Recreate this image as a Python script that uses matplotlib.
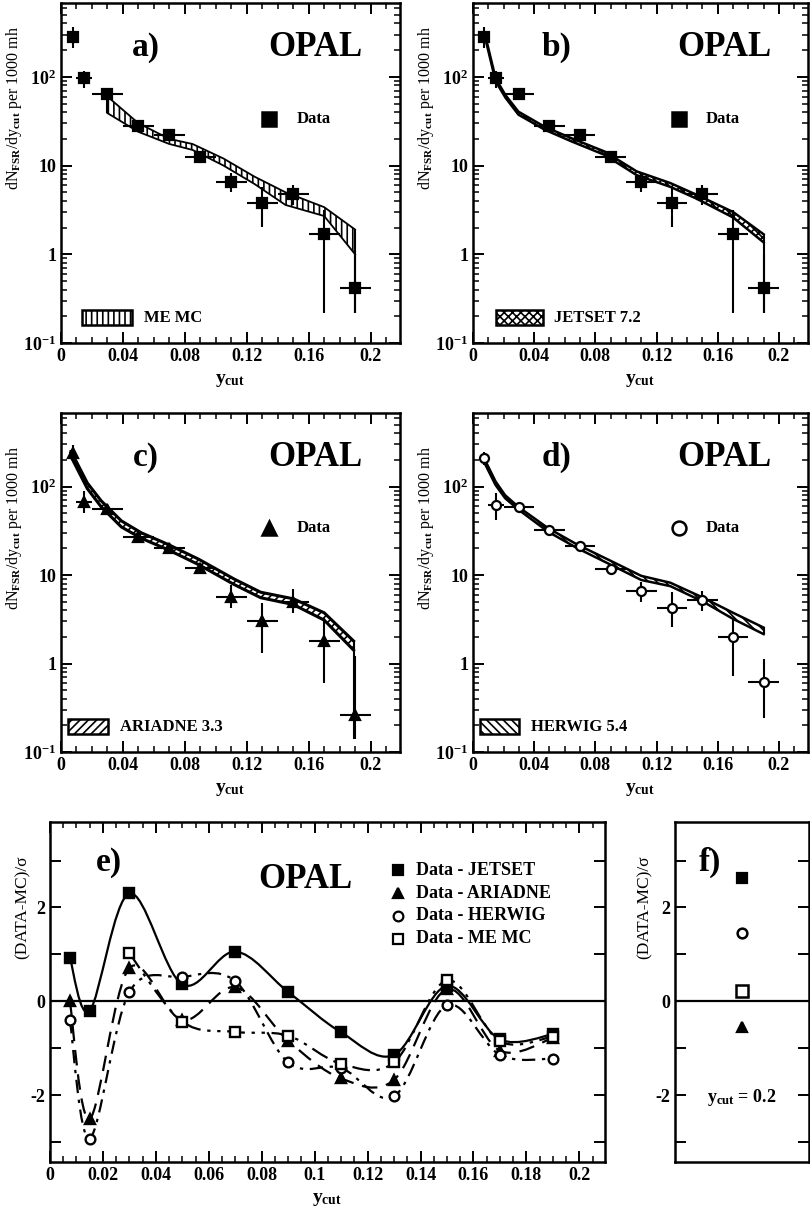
import numpy as np
import matplotlib
matplotlib.use("Agg")
import matplotlib.pyplot as plt
from matplotlib.path import Path
from matplotlib.patches import PathPatch, Rectangle
from matplotlib.ticker import MultipleLocator, FixedLocator, FixedFormatter, FuncFormatter, LogLocator

plt.rcParams['font.family'] = ['Liberation Serif', 'DejaVu Serif']
plt.rcParams['font.weight'] = 'bold'
plt.rcParams['mathtext.fontset'] = 'custom'
plt.rcParams['mathtext.rm'] = 'Liberation Serif:bold'
plt.rcParams['mathtext.it'] = 'Liberation Serif:bold'
plt.rcParams['mathtext.bf'] = 'Liberation Serif:bold'
plt.rcParams['hatch.linewidth'] = 1.2

# -------------------------------------
# Data
# -------------------------------------
bin_edges = [0.005, 0.01, 0.02, 0.04, 0.06, 0.08, 0.10, 0.12, 0.14, 0.16, 0.18, 0.20]

# data points, corrected with JETSET / ME MC (squares)
sq_vals = [285, 97, 64, 28, 22.2, 12.6, 6.6, 3.8, 4.8, 1.7, 0.42]
sq_up = [84, 18, 4, 2, 2, 1, 1.6, 2.0, 1.25, 1.45, 0.58]
sq_lo = [75, 22, 4, 2, 2, 1, 1.5, 1.75, 1.2, 1.48, 0.2]

# ARIADNE corrected (triangles)
tri_vals = [243, 67, 56, 27, 20, 11.9, 5.7, 3.0, 5.0, 1.8, 0.26]
tri_up = [55, 23, 3, 2, 1.5, 1, 2.0, 1.8, 2.0, 1.5, 0.97]
tri_lo = [50, 17, 3, 2, 1.5, 1, 1.45, 1.7, 1.3, 1.2, 0.12]

# HERWIG corrected (circles)
circ_vals = [209, 62, 59.6, 32.6, 21.2, 11.6, 6.6, 4.3, 5.25, 1.98, 0.62]
circ_up = [40, 23, 4, 3, 2, 1, 1.7, 2.1, 1.3, 1.2, 0.52]
circ_lo = [35, 20, 4, 3, 2, 1, 1.7, 1.7, 1.35, 1.25, 0.38]

# ME MC band
me_x = [0.03, 0.05, 0.07, 0.085, 0.105, 0.125, 0.145, 0.17, 0.19]
me_up = [60, 30, 20, 17.5, 12.0, 7.5, 5.0, 3.4, 1.9]
me_lo = [39, 24, 17.5, 15.0, 10.0, 6.2, 3.6, 2.7, 1.0]

# JETSET 7.2 band
js_x = [0.0085, 0.0148, 0.0213, 0.0297, 0.047, 0.0645, 0.086, 0.107, 0.129, 0.146, 0.17, 0.19]
js_up = [270, 96, 62, 40.5, 27.3, 20.3, 14.4, 8.6, 6.35, 4.7, 3.0, 1.68]
js_lo = [252, 89, 58, 37.5, 25.3, 18.7, 13.2, 7.8, 5.75, 4.25, 2.6, 1.36]

# ARIADNE 3.3 band
ar_x = [0.0065, 0.017, 0.026, 0.039, 0.052, 0.069, 0.089, 0.112, 0.129, 0.15, 0.17, 0.189]
ar_up = [250, 110, 69, 41, 30, 22.3, 15.1, 9.0, 6.4, 5.4, 3.75, 1.8]
ar_lo = [218, 95, 59, 35, 26, 19.4, 13.1, 7.8, 5.55, 4.65, 3.1, 1.42]

# HERWIG 5.4 band
hw_x = [0.0072, 0.0148, 0.021, 0.0297, 0.049, 0.068, 0.090, 0.110, 0.129, 0.150, 0.170, 0.190]
hw_up = [210, 114, 80, 59, 34, 22.2, 14.5, 9.8, 8.2, 5.6, 3.75, 2.55]
hw_lo = [190, 104, 74, 55, 31, 20.2, 13.1, 8.8, 7.5, 5.05, 3.2, 2.15]

# (DATA-MC)/sigma
dev_x = [0.0075, 0.015, 0.03, 0.05, 0.07, 0.09, 0.11, 0.13, 0.15, 0.17, 0.19]
dev_jetset = [0.93, -0.20, 2.30, 0.36, 1.06, 0.20, -0.66, -1.14, 0.33, -0.81, -0.70]
dev_ariadne = [0.0, -2.5, 0.71, -0.40, 0.30, -0.84, -1.64, -1.67, 0.26, -1.05, -0.78]
dev_herwig = [-0.40, -2.92, 0.20, 0.52, 0.43, -1.30, -1.42, -2.02, -0.08, -1.14, -1.22]
devme_x = [0.03, 0.05, 0.07, 0.09, 0.11, 0.13, 0.15, 0.17, 0.19]
dev_memc = [1.02, -0.43, -0.65, -0.73, -1.33, -1.30, 0.45, -0.85, -0.75]

# y_cut = 0.2
f_x = [0.2]
f_jetset = [2.63]
f_herwig = [1.45]
f_memc = [0.22]
f_ariadne = [-0.55]


# -------------------------------------
# Helper Functions
# -------------------------------------

def rect(l, t, r, b):
    return [l / 810, 1 - b / 1224, (r - l) / 810, (b - t) / 1224]


def smooth_path(xs, ys):
    """Catmull-Rom curve through the points, as cubic Bezier segments."""
    pts = np.column_stack([xs, ys]).astype(float)
    n = len(pts)
    verts = [pts[0]]
    codes = [Path.MOVETO]
    for i in range(n - 1):
        p0 = pts[i - 1] if i > 0 else pts[i]
        p1, p2 = pts[i], pts[i + 1]
        p3 = pts[i + 2] if i + 2 < n else pts[i + 1]
        verts += [p1 + (p2 - p0) / 6, p2 - (p3 - p1) / 6, p2]
        codes += [Path.CURVE4] * 3
    return Path(verts, codes)


def style_log_panel(ax):
    ax.set_yscale('log')
    ax.set_xlim(0, 0.219)
    ax.set_ylim(0.1, 680)
    ax.xaxis.set_major_locator(MultipleLocator(0.04))
    ax.xaxis.set_minor_locator(MultipleLocator(0.01))
    ax.xaxis.set_major_formatter(FuncFormatter(lambda v, p: '%g' % round(v, 3)))
    ax.yaxis.set_major_locator(FixedLocator([0.1, 1, 10, 100]))
    ax.yaxis.set_major_formatter(FixedFormatter([r'$\mathrm{10^{-1}}$', '1', '10', r'$\mathrm{10^{2}}$']))
    ax.yaxis.set_minor_locator(LogLocator(base=10, subs=np.arange(2, 10)))
    ax.yaxis.set_minor_formatter(FuncFormatter(lambda v, p: ''))
    ax.tick_params(which='both', direction='in', top=True, right=True, labelsize=13)
    ax.tick_params(which='major', length=8, width=1.4)
    ax.tick_params(which='minor', length=4, width=1.1)
    for s in ax.spines.values():
        s.set_linewidth(1.8)
    ax.set_xlabel(r'$\mathrm{y_{cut}}$', fontsize=14, labelpad=5)
    ax.set_ylabel(r'dN$_{\mathrm{FSR}}$/dy$_{\mathrm{cut}}$ per 1000 mh', fontsize=11.5)


def draw_data(ax, vals, lo, up, marker, mfc):
    xc = [(a + b) / 2 for a, b in zip(bin_edges[:-1], bin_edges[1:])]
    xe = [(b - a) / 2 for a, b in zip(bin_edges[:-1], bin_edges[1:])]
    ax.errorbar(xc, vals, yerr=[lo, up], xerr=xe, fmt=marker, color='black',
                mfc=mfc, mec='black', ms=6.5, mew=1.6, elinewidth=1.5, capsize=0, zorder=5)


def draw_band(ax, xs, lo, up, hatch, lw, floor):
    ax.fill_between(xs, lo, up, facecolor='white', edgecolor='black', hatch=hatch,
                    linewidth=0, zorder=3)
    ax.plot(xs, up, color='black', lw=lw, zorder=4)
    ax.plot(xs, lo, color='black', lw=lw, zorder=4)
    ax.vlines([xs[0], xs[-1]], [lo[0], floor], [up[0], up[-1]], color='black', lw=1.5, zorder=4)


def panel_text(ax, tag, marker, mfc, label, hatch, box):
    ax.text(0.25, 0.87, tag, transform=ax.transAxes, fontsize=24, ha='center', va='center')
    ax.text(0.75, 0.87, 'OPAL', transform=ax.transAxes, fontsize=25, ha='center', va='center')
    ax.plot([0.615], [0.66], marker=marker, mfc=mfc, mec='black', ms=10, mew=1.8,
            color='black', transform=ax.transAxes, clip_on=False)
    ax.text(0.695, 0.66, 'Data', transform=ax.transAxes, fontsize=12, va='center')
    ax.add_patch(Rectangle((box[0], 0.053), box[1], 0.044, transform=ax.transAxes,
                           facecolor='white', edgecolor='black', hatch=hatch, lw=1.8))
    ax.text(box[0] + box[1] + 0.035, 0.075, label, transform=ax.transAxes, fontsize=12, va='center')


def floor_of(vals, lo):
    return vals[-1] - lo[-1]


# -------------------------------------
# Figure
# -------------------------------------
fig = plt.figure(figsize=(8.1, 12.24), dpi=100)

ax_a = fig.add_axes(rect(61, 3, 400, 343))
ax_b = fig.add_axes(rect(473, 3, 808, 343))
ax_c = fig.add_axes(rect(61, 413, 400, 752))
ax_d = fig.add_axes(rect(473, 413, 808, 752))

for ax in (ax_a, ax_b, ax_c, ax_d):
    style_log_panel(ax)

draw_band(ax_a, me_x, me_lo, me_up, '|||', 1.3, floor_of(sq_vals, sq_lo))
draw_data(ax_a, sq_vals, sq_lo, sq_up, 's', 'black')
panel_text(ax_a, 'a)', 's', 'black', 'ME MC', '|||', (0.062, 0.147))
ax_a.yaxis.set_label_coords(-0.11, 0.69)

draw_band(ax_b, js_x, js_lo, js_up, 'xxxx', 1.8, floor_of(sq_vals, sq_lo))
draw_data(ax_b, sq_vals, sq_lo, sq_up, 's', 'black')
panel_text(ax_b, 'b)', 's', 'black', 'JETSET 7.2', 'xxxx', (0.068, 0.14))
ax_b.yaxis.set_label_coords(-0.11, 0.69)

draw_band(ax_c, ar_x, ar_lo, ar_up, '////', 2.2, floor_of(tri_vals, tri_lo))
draw_data(ax_c, tri_vals, tri_lo, tri_up, '^', 'black')
panel_text(ax_c, 'c)', '^', 'black', 'ARIADNE 3.3', '////', (0.02, 0.118))
ax_c.yaxis.set_label_coords(-0.11, 0.66)

draw_band(ax_d, hw_x, hw_lo, hw_up, '\\\\\\\\', 1.8, hw_lo[-1])
draw_data(ax_d, circ_vals, circ_lo, circ_up, 'o', 'white')
panel_text(ax_d, 'd)', 'o', 'white', 'HERWIG 5.4', '\\\\\\\\', (0.02, 0.118))
ax_d.yaxis.set_label_coords(-0.11, 0.66)

# ---- panel e ----
ax_e = fig.add_axes(rect(50, 822, 605, 1162))
ax_e.set_xlim(0, 0.2097)
ax_e.set_ylim(-3.42, 3.82)
ax_e.axhline(0, color='black', lw=1.6)

series = [
    (dev_x, dev_jetset, 's', 'black', '-', 'Data - JETSET'),
    (dev_x, dev_ariadne, '^', 'black', (0, (7, 4)), 'Data - ARIADNE'),
    (dev_x, dev_herwig, 'o', 'white', (0, (6, 3, 1.5, 3)), 'Data - HERWIG'),
    (devme_x, dev_memc, 's', 'white', (0, (8, 3, 1.5, 3, 1.5, 3)), 'Data - ME MC'),
]
for xs, ys, mk, fc, ls, lab in series:
    ax_e.add_patch(PathPatch(smooth_path(xs, ys), fill=False, lw=1.6, ls=ls,
                             edgecolor='black', zorder=3))
    ax_e.plot(xs, ys, mk, mfc=fc, mec='black', ms=7, mew=1.7, ls='none', zorder=5)

for i, (xs, ys, mk, fc, ls, lab) in enumerate(series):
    yy = 0.858 - i * 0.067
    ax_e.plot([0.627], [yy], mk, mfc=fc, mec='black', ms=7, mew=1.6,
              transform=ax_e.transAxes)
    ax_e.text(0.66, yy, lab, transform=ax_e.transAxes, fontsize=13, va='center')

ax_e.text(0.106, 0.88, 'e)', transform=ax_e.transAxes, fontsize=24, ha='center', va='center')
ax_e.text(0.46, 0.83, 'OPAL', transform=ax_e.transAxes, fontsize=25, ha='center', va='center')

ax_e.xaxis.set_major_locator(MultipleLocator(0.02))
ax_e.xaxis.set_minor_locator(MultipleLocator(0.005))
ax_e.xaxis.set_major_formatter(FuncFormatter(lambda v, p: '%g' % round(v, 3)))
ax_e.yaxis.set_major_locator(MultipleLocator(1))
ax_e.yaxis.set_major_formatter(FuncFormatter(lambda v, p: '%d' % round(v) if round(v) % 2 == 0 else ''))
ax_e.tick_params(which='both', direction='in', top=True, right=True, labelsize=13)
ax_e.tick_params(which='major', length=8, width=1.4)
ax_e.tick_params(which='minor', length=4, width=1.1)
for s in ax_e.spines.values():
    s.set_linewidth(1.8)
ax_e.set_xlabel(r'$\mathrm{y_{cut}}$', fontsize=14, labelpad=5)
ax_e.set_ylabel('(DATA-MC)/σ', fontsize=12.5)
ax_e.yaxis.set_label_coords(-0.035, 0.75)

# ---- panel f ----
ax_f = fig.add_axes(rect(675, 822, 809, 1162))
ax_f.set_xlim(0.13, 0.27)
ax_f.set_ylim(-3.42, 3.82)
ax_f.axhline(0, color='black', lw=1.6)
ax_f.plot(f_x, f_jetset, 's', mfc='black', mec='black', ms=7, mew=1.6)
ax_f.plot(f_x, f_herwig, 'o', mfc='white', mec='black', ms=7, mew=1.8)
ax_f.plot(f_x, f_memc, 's', mfc='white', mec='black', ms=8, mew=1.8)
ax_f.plot(f_x, f_ariadne, '^', mfc='black', mec='black', ms=7, mew=1.6)
ax_f.text(0.26, 0.88, 'f)', transform=ax_f.transAxes, fontsize=24, ha='center', va='center')
ax_f.text(0.5, 0.19, r'$\mathrm{y_{cut}}$ = 0.2', transform=ax_f.transAxes, fontsize=13,
          ha='center', va='center')
ax_f.set_xticks([])
ax_f.yaxis.set_major_locator(MultipleLocator(1))
ax_f.yaxis.set_major_formatter(FuncFormatter(lambda v, p: '%d' % round(v) if round(v) % 2 == 0 else ''))
ax_f.tick_params(which='both', direction='in', right=True, labelsize=13)
ax_f.tick_params(which='major', length=8, width=1.4)
for s in ax_f.spines.values():
    s.set_linewidth(1.8)
ax_f.set_ylabel('(DATA-MC)/σ', fontsize=12.5)
ax_f.yaxis.set_label_coords(-0.17, 0.75)

fig.savefig('out.png', dpi=100)
